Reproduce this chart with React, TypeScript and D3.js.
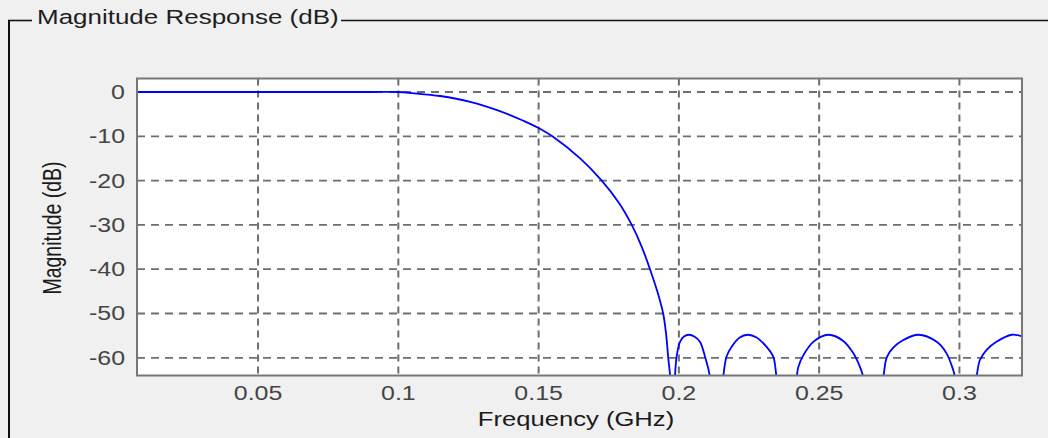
import React from "react";
import * as d3 from "d3";

// ---- data ----
const freqGHz: number[] = [
  0.00685, 0.09, 0.1, 0.105, 0.1149, 0.1256, 0.1362, 0.1446, 0.1493, 0.1549, 0.1648,
  0.1725, 0.1786, 0.1832, 0.1868, 0.1897, 0.1923, 0.1944, 0.1955, 0.1962, 0.1969,
  0.1978,
  // lobe 1
  0.1986, 0.1992, 0.2004, 0.2018, 0.2036, 0.2055, 0.2075, 0.2093, 0.2111, 0.2132,
  // lobe 2
  0.2158, 0.217, 0.2188, 0.2217, 0.2245, 0.2277, 0.2312, 0.2336, 0.2348, 0.2384,
  // lobe 3
  0.242, 0.2426, 0.2444, 0.2479, 0.2533, 0.2586, 0.2622, 0.2645, 0.2657, 0.2692,
  // lobe 4
  0.2729, 0.2741, 0.2764, 0.28, 0.2853, 0.2919, 0.2954, 0.2978, 0.2984, 0.3023,
  // lobe 5
  0.3061, 0.3073, 0.3097, 0.3132, 0.3186, 0.3223,
];
const magnitudeDb: number[] = [
  0, 0, 0, -0.25, -0.9, -2.2, -4.3, -6.5, -7.9, -10.0, -15.0,
  -20.0, -25.0, -30.0, -35.0, -40.0, -45.0, -50.0, -55.0, -60.0, -64.3,
  -80,
  -64.3, -59.7, -56.4, -55.2, -54.8, -55.2, -56.4, -59.7, -64.3, -80,
  -64.3, -59.7, -57.5, -55.4, -54.8, -55.4, -57.5, -59.7, -64.3, -80,
  -64.3, -62.0, -59.4, -56.4, -54.8, -56.2, -59.0, -62.0, -64.3, -80,
  -64.3, -59.9, -57.7, -56.0, -54.8, -56.4, -59.0, -62.8, -64.3, -80,
  -64.3, -60.5, -58.2, -56.4, -54.8, -55.2,
];
const xTicks: number[] = [0.05, 0.1, 0.15, 0.2, 0.25, 0.3];
const xTickLabels: string[] = ["0.05", "0.1", "0.15", "0.2", "0.25", "0.3"];
const yTicks: number[] = [0, -10, -20, -30, -40, -50, -60];
const yTickLabels: string[] = ["0", "-10", "-20", "-30", "-40", "-50", "-60"];
const xDomain: number[] = [0.00685, 0.3223];
const yDomain: number[] = [-64, 3.05];
const panelTitle = "Magnitude Response (dB)";
const xAxisTitle = "Frequency (GHz)";
const yAxisTitle = "Magnitude (dB)";

const W = 1048;
const H = 438;
const plot = { left: 137, right: 1022, top: 78.5, bottom: 375.5 };
const SX = 1.28;
const FONT = "'Liberation Sans', Arial, sans-serif";

function SText(props: {
  x: number;
  y: number;
  text: string;
  anchor?: string;
  size?: number;
  fill?: string;
  rotate?: number;
}) {
  const { x, y, text, anchor = "middle", size = 20, fill = "#1a1a1a", rotate } = props;
  const tr = `translate(${x},${y}) scale(${SX},1)` + (rotate ? ` rotate(${rotate})` : "");
  return (
    <g transform={tr}>
      <text x={0} y={0} textAnchor={anchor} fontSize={size} fontFamily={FONT} fill={fill}>
        {text}
      </text>
    </g>
  );
}

export default function App() {
  const x = d3.scaleLinear().domain(xDomain).range([plot.left, plot.right]);
  const y = d3.scaleLinear().domain(yDomain).range([plot.bottom, plot.top]);
  const pts = freqGHz.map((f, i) => [f, magnitudeDb[i]] as [number, number]);
  const line = d3
    .line<[number, number]>()
    .x((d) => x(d[0]))
    .y((d) => y(d[1]))
    .curve(d3.curveCatmullRom.alpha(0.5));
  const gridColor = "#6e6e6e";
  return (
    <svg
      width={W}
      height={H}
      style={{ position: "absolute", left: 0, top: 0, display: "block" }}
    >
      <rect x={0} y={0} width={W} height={H} fill="#f0f0f0" />
      {/* group box */}
      <line x1={9} y1={20.5} x2={9} y2={H} stroke="#111" strokeWidth={2} />
      <line x1={8} y1={20.5} x2={32} y2={20.5} stroke="#111" strokeWidth={1.6} />
      <line x1={341} y1={20.5} x2={W} y2={20.5} stroke="#111" strokeWidth={1.6} />
      <SText x={37} y={23.5} text={panelTitle} anchor="start" size={20.3} fill="#1e1e1e" />

      {/* plot area */}
      <defs>
        <clipPath id="plotClip">
          <rect
            x={plot.left}
            y={plot.top}
            width={plot.right - plot.left}
            height={plot.bottom - plot.top}
          />
        </clipPath>
      </defs>
      <rect
        x={plot.left}
        y={plot.top}
        width={plot.right - plot.left}
        height={plot.bottom - plot.top}
        fill="#ffffff"
      />
      {yTicks.map((t) => (
        <line
          key={"gy" + t}
          x1={plot.left}
          x2={plot.right}
          y1={y(t)}
          y2={y(t)}
          stroke={gridColor}
          strokeWidth={1.8}
          strokeDasharray="8,6"
        />
      ))}
      {xTicks.map((t) => (
        <line
          key={"gx" + t}
          x1={x(t)}
          x2={x(t)}
          y1={plot.top}
          y2={plot.bottom}
          stroke={gridColor}
          strokeWidth={2}
          strokeDasharray="7,5"
        />
      ))}
      <path
        d={line(pts) || ""}
        fill="none"
        stroke="#0000ff"
        strokeWidth={1.8}
        clipPath="url(#plotClip)"
      />
      <rect
        x={plot.left}
        y={plot.top}
        width={plot.right - plot.left}
        height={plot.bottom - plot.top}
        fill="none"
        stroke="#777777"
        strokeWidth={2}
      />

      {/* tick labels */}
      {yTicks.map((t, i) => (
        <SText
          key={"ly" + t}
          x={125}
          y={y(t) + 7}
          text={yTickLabels[i]}
          anchor="end"
          size={19.5}
          fill="#444"
        />
      ))}
      {xTicks.map((t, i) => (
        <SText
          key={"lx" + t}
          x={x(t)}
          y={400}
          text={xTickLabels[i]}
          anchor="middle"
          size={19.5}
          fill="#444"
        />
      ))}
      <SText x={576} y={426} text={xAxisTitle} anchor="middle" size={20} fill="#1a1a1a" />
      <SText x={61} y={228} text={yAxisTitle} anchor="middle" size={19.5} fill="#1a1a1a" rotate={-90} />
    </svg>
  );
}
